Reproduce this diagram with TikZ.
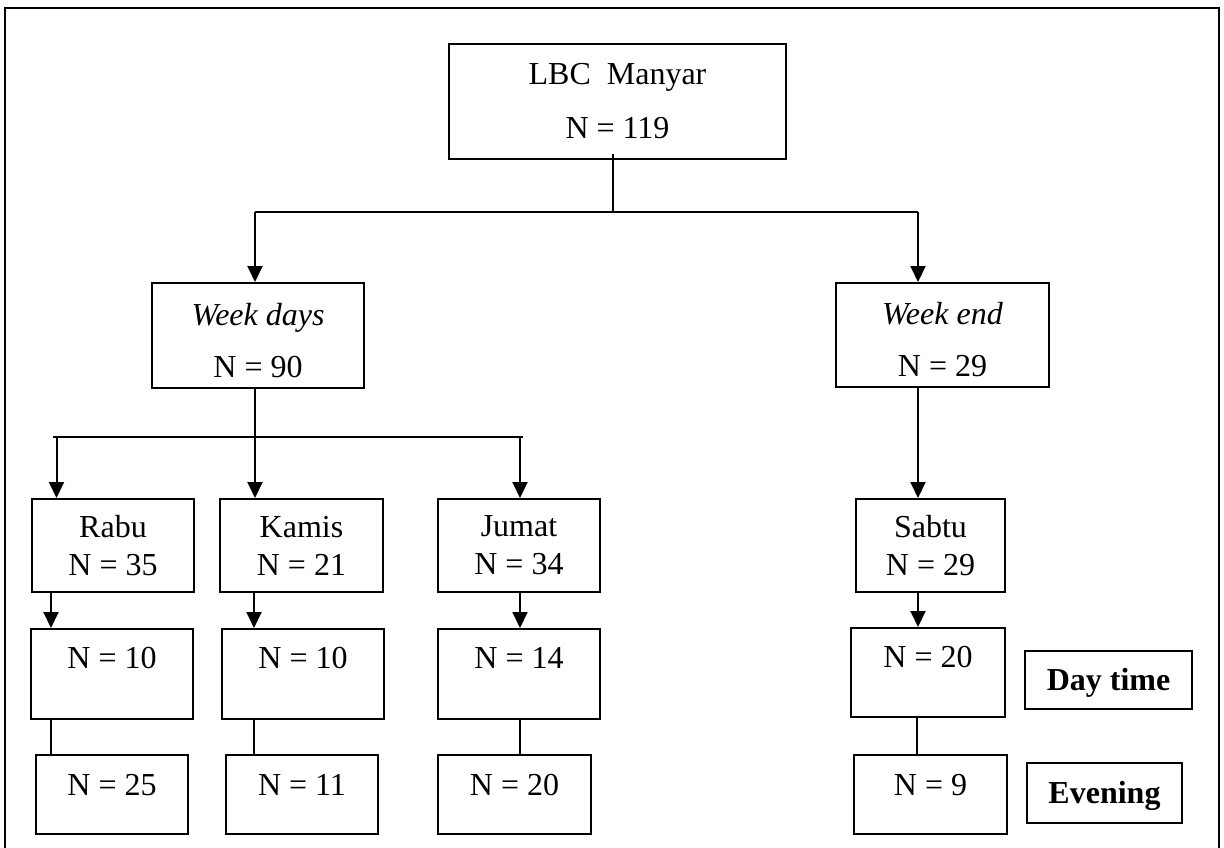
\documentclass[tikz,border=0pt]{standalone}
\usepackage{fontspec}
\setmainfont{Liberation Serif}
\usetikzlibrary{arrows.meta}
\begin{document}
\begin{tikzpicture}[x=1pt,y=-1pt,line width=2pt,
  box/.style={draw,line width=2pt,inner sep=0pt,align=center,font=\fontsize{32}{38}\selectfont},
  sbox/.style 2 args={box,text height=#1,text depth=#2},
  arr/.style={-{Triangle[length=16pt,width=15pt]},line width=2pt}]
\useasboundingbox (0,0) rectangle (1224,848);
\draw (5,852) -- (5,8) -- (1219,8) -- (1219,852);
% level 0
\node[box,minimum width=337pt,minimum height=115pt,font=\fontsize{32}{54}\selectfont] (root) at (617.5,101.5) {LBC\ \ Manyar\\N = 119};
% level 1
\node[box,minimum width=212pt,minimum height=105pt,font=\fontsize{32}{52}\selectfont] (wd) at (258,335.5) {\rule{0pt}{32pt}\itshape Week days\\N = 90};
\node[box,minimum width=213pt,minimum height=104pt,font=\fontsize{32}{52}\selectfont] (we) at (942.5,335) {\rule{0pt}{32pt}\itshape Week end\\N = 29};
% level 2
\node[box,minimum width=162pt,minimum height=93pt] (rabu) at (113,545.5) {Rabu\\N = 35};
\node[box,minimum width=163pt,minimum height=93pt] (kamis) at (301.5,545.5) {Kamis\\N = 21};
\node[box,minimum width=162pt,minimum height=93pt] (jumat) at (519,545.5) {Jumat\\N = 34};
\node[box,minimum width=149pt,minimum height=93pt] (sabtu) at (930.5,545.5) {Sabtu\\N = 29};
% level 3 (day time)
\node[sbox={39pt}{51pt},minimum width=162pt] (r2a) at (112,674) {N = 10};
\node[sbox={39pt}{51pt},minimum width=161.5pt] (r2b) at (303,674) {N = 10};
\node[sbox={39pt}{51pt},minimum width=162pt] (r2c) at (519,674) {N = 14};
\node[sbox={39pt}{50pt},minimum width=154pt] (r2d) at (928,672.5) {N = 20};
% level 4 (evening)
\node[sbox={40pt}{39pt},minimum width=152pt] (r3a) at (112,794.5) {N = 25};
\node[sbox={40pt}{39pt},minimum width=152pt] (r3b) at (302,794.5) {N = 11};
\node[sbox={40pt}{39pt},minimum width=153pt] (r3c) at (514.5,794.5) {N = 20};
\node[sbox={40pt}{39pt},minimum width=153pt] (r3d) at (930.5,794.5) {N = 9};
% legend
\node[sbox={39pt}{19pt},minimum width=167pt] (day) at (1108.5,680) {\bfseries Day time};
\node[sbox={40pt}{20pt},minimum width=155pt] (eve) at (1104.5,793) {\bfseries Evening};
% connectors root
\coordinate (j1) at (613,212);
\coordinate (jl) at (255,212);
\coordinate (jr) at (918,212);
\draw ([yshift=6pt]root.south -| j1) -- (j1);
\draw (jl) -- (jr);
\draw[arr] (jl) -- (jl |- wd.north);
\draw[arr] (jr) -- (jr |- we.north);
% connectors week days
\coordinate (hl) at (53,437);
\coordinate (hr) at (523,437);
\coordinate (ka) at (255,437);
\coordinate (ra) at (56.5,437);
\coordinate (ju) at (520,437);
\draw (hl) -- (hr);
\draw[arr] (ka |- wd.south) -- (ka |- kamis.north);
\draw[arr] (ra) -- (ra |- rabu.north);
\draw[arr] (ju) -- (ju |- jumat.north);
% week end
\draw[arr] (jr |- we.south) -- (jr |- sabtu.north);
% day to day-time
\draw[arr] ([xshift=-62pt]rabu.south) -- ([xshift=-62pt]rabu.south |- r2a.north);
\draw[arr] ([xshift=-47.5pt]kamis.south) -- ([xshift=-47.5pt]kamis.south |- r2b.north);
\draw[arr] ([xshift=1pt]jumat.south) -- ([xshift=1pt]jumat.south |- r2c.north);
\draw[arr] ([xshift=-12.5pt]sabtu.south) -- ([xshift=-12.5pt]sabtu.south |- r2d.north);
% day-time to evening
\draw ([xshift=-61pt]r2a.south) -- ([xshift=-61pt]r2a.south |- r3a.north);
\draw ([xshift=-49pt]r2b.south) -- ([xshift=-49pt]r2b.south |- r3b.north);
\draw ([xshift=1pt]r2c.south) -- ([xshift=1pt]r2c.south |- r3c.north);
\draw ([xshift=-11pt]r2d.south) -- ([xshift=-11pt]r2d.south |- r3d.north);
\end{tikzpicture}
\end{document}
